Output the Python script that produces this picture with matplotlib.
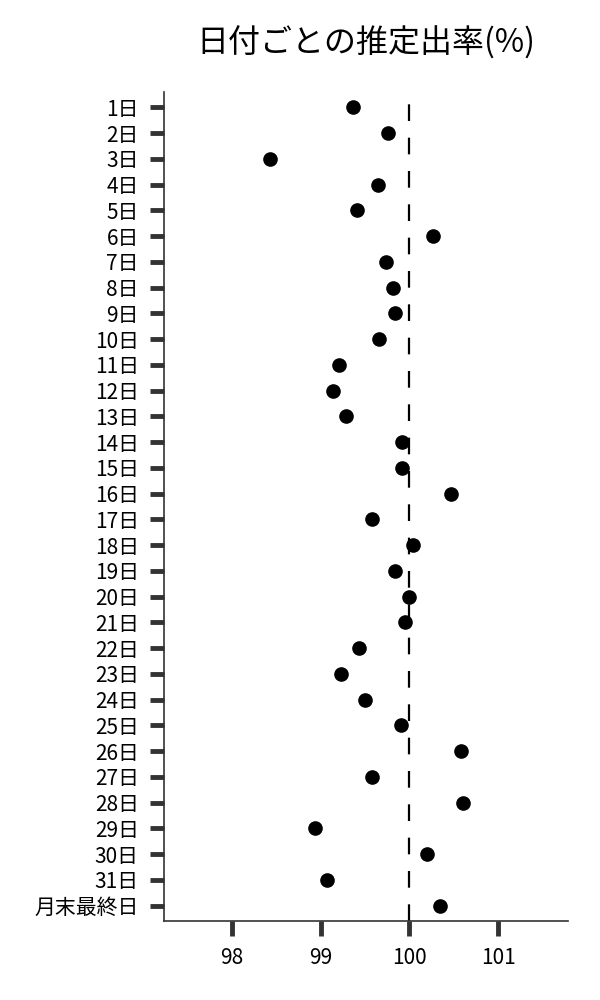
import matplotlib
matplotlib.use("Agg")
import matplotlib.pyplot as plt

plt.rcParams['font.family'] = ['Noto Sans CJK JP', 'DejaVu Sans']

days = [str(i) + "日" for i in range(1, 32)] + ["月末最終日"]
rates = [99.36, 99.76, 98.43, 99.65, 99.41, 100.26, 99.74, 99.82, 99.84, 99.66,
         99.20, 99.14, 99.28, 99.92, 99.92, 100.47, 99.58, 100.04, 99.84, 100.00,
         99.95, 99.43, 99.23, 99.50, 99.90, 100.58, 99.58, 100.60, 98.94, 100.20,
         99.07, 100.35]
xticks = [98, 99, 100, 101]

fig = plt.figure(figsize=(6, 10), dpi=100)
ax = fig.add_axes([0.273, 0.079, 0.674, 0.829])

y = list(range(len(days)))
ax.plot(rates, y, "o", color="black", markersize=9.5, zorder=3)
ax.axvline(100, color="black", lw=1.6, linestyle=(0, (7.5, 7.5)), zorder=2)

ax.set_ylim(len(days) - 0.4, -0.6)
ax.set_xlim(97.23, 101.79)
ax.set_yticks(y)
ax.set_yticklabels(days)
ax.set_xticks(xticks)
ax.set_xticklabels([str(t) for t in xticks])

for s in ["top", "right"]:
    ax.spines[s].set_visible(False)
for s in ["left", "bottom"]:
    ax.spines[s].set_color("#333333")
    ax.spines[s].set_linewidth(1.2)

ax.tick_params(axis="y", length=10, width=3.5, color="#333333", pad=8, labelsize=15)
ax.tick_params(axis="x", length=11, width=3.5, color="#333333", pad=8, labelsize=15)

ax.set_title("日付ごとの推定出率(%)", fontsize=23, pad=28)

fig.savefig("out.png", dpi=100)
